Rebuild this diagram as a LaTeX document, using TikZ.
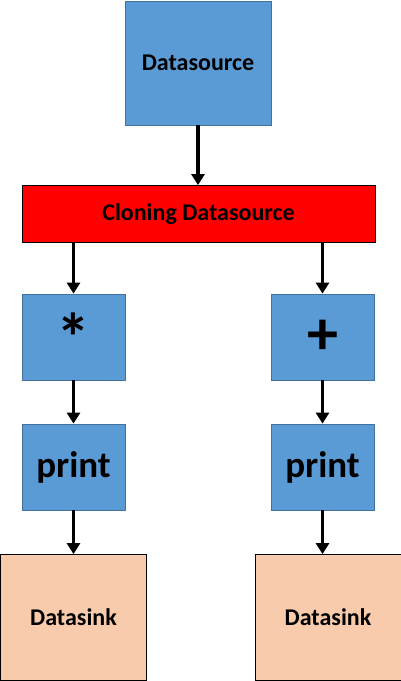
\documentclass[tikz,border=0pt]{standalone}
\usepackage{fontspec}
\setmainfont{Carlito}
\usetikzlibrary{arrows.meta}
\definecolor{boxblue}{HTML}{5B9BD5}
\definecolor{edgeblue}{HTML}{41719C}
\definecolor{peach}{HTML}{F8CBAD}
\begin{document}
\begin{tikzpicture}[x=1pt,y=-1pt,
  bluebox/.style={draw=edgeblue,fill=boxblue,line width=0.8pt,minimum width=103pt,minimum height=86pt,inner sep=0pt,font=\bfseries},
  redbox/.style={draw=black,fill=red,line width=0.8pt,minimum width=353pt,minimum height=57pt,inner sep=0pt,font=\bfseries\fontsize{24}{26}\selectfont},
  sinkbox/.style={draw=black,fill=peach,line width=0.8pt,minimum width=146pt,minimum height=126pt,inner sep=0pt,font=\bfseries\fontsize{24}{26}\selectfont},
  arr/.style={line width=3.6pt,-{Triangle[length=11pt,width=13pt]}}]
\useasboundingbox (0,0) rectangle (401,681);
\node[bluebox,minimum width=146pt,minimum height=124pt,font=\bfseries\fontsize{24}{26}\selectfont] (ds) at (198,63) {Datasource};
\node[redbox] (clone) at (198.5,214) {\raisebox{-2pt}{Cloning Datasource}};
\node[bluebox,font=\bfseries\fontsize{68}{68}\selectfont] (mul) at (73.5,337) {\raisebox{-2pt}{*}};
\node[bluebox,font=\bfseries\fontsize{62}{62}\selectfont] (add) at (322.5,337) {+};
\node[bluebox,font=\bfseries\fontsize{37}{40}\selectfont] (p1) at (73.5,467) {\raisebox{-3pt}{print}};
\node[bluebox,font=\bfseries\fontsize{37}{40}\selectfont] (p2) at (322.5,467) {\raisebox{-3pt}{print}};
\node[sinkbox] (s1) at (73.5,617.5) {Datasink};
\node[sinkbox] (s2) at (328,617.5) {Datasink};
\draw[arr] (ds.south) -- (ds.south |- clone.north);
\draw[arr] (clone.south -| mul.north) -- (mul.north);
\draw[arr] (clone.south -| add.north) -- (add.north);
\draw[arr] (mul.south) -- (p1.north);
\draw[arr] (add.south) -- (p2.north);
\draw[arr] (p1.south) -- (p1.south |- s1.north);
\draw[arr] (p2.south) -- (p2.south |- s2.north);
\end{tikzpicture}
\end{document}
